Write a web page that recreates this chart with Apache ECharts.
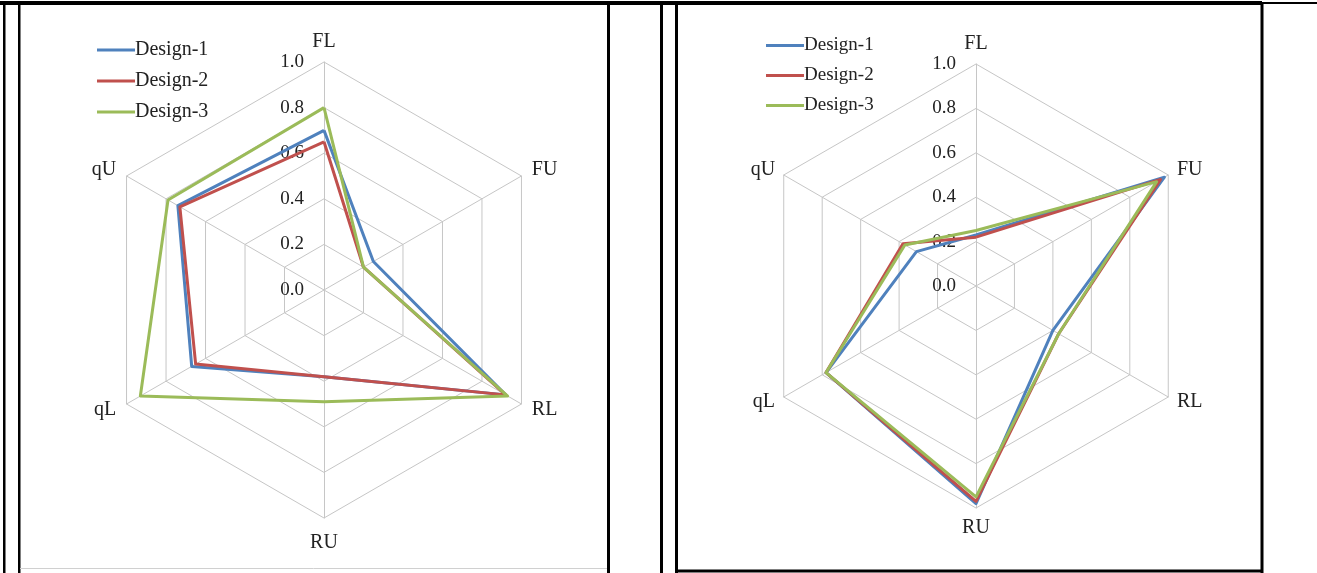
<!DOCTYPE html>
<html>
<head>
<meta charset="utf-8">
<script src="https://cdn.jsdelivr.net/npm/echarts@6/dist/echarts.min.js"></script>
<style>
  html, body { margin: 0; padding: 0; background: #fff; }
  #chart { width: 1317px; height: 573px; }
</style>
</head>
<body>
<div id="chart"></div>
<script>
// Axis names in clockwise order as they appear (FL at top)
const axisNames = ['FL', 'FU', 'RL', 'RU', 'qL', 'qU'];
const seriesNames = ['Design-1', 'Design-2', 'Design-3'];
const seriesColors = ['#4F81BD', '#C0504D', '#9BBB59'];
const tickLabels = ['0.0', '0.2', '0.4', '0.6', '0.8', '1.0'];

// Left chart values (FL, FU, RL, RU, qL, qU)
const leftDesign1 = [0.70, 0.25, 0.92, 0.38, 0.67, 0.74];
const leftDesign2 = [0.65, 0.20, 0.92, 0.38, 0.65, 0.73];
const leftDesign3 = [0.80, 0.20, 0.93, 0.49, 0.93, 0.79];

// Right chart values (FL, FU, RL, RU, qL, qU)
const rightDesign1 = [0.23, 0.98, 0.40, 0.98, 0.78, 0.31];
const rightDesign2 = [0.22, 0.96, 0.43, 0.97, 0.78, 0.38];
const rightDesign3 = [0.25, 0.94, 0.43, 0.95, 0.78, 0.37];

// ECharts lays indicators out counter-clockwise; reorder to appear clockwise
const order = [0, 5, 4, 3, 2, 1];
const reorder = arr => order.map(i => arr[i]);

const FONT = 'Liberation Serif';

function makeIndicators(gaps) {
  return order.map((i, k) => {
    const ind = { name: axisNames[i], min: 0, max: 1, nameGap: gaps[i] };
    if (k === 0) {
      ind.axisLabel = {
        show: true,
        formatter: v => tickLabels[Math.round(v / 0.2)] ?? v.toFixed(1),
        color: '#222',
        fontFamily: FONT,
        fontSize: 19,
        margin: 20
      };
    }
    return ind;
  });
}

function makeRadar(center, radius, gaps) {
  return {
    center: center,
    radius: radius,
    startAngle: 90,
    shape: 'polygon',
    splitNumber: 5,
    indicator: makeIndicators(gaps),
    axisName: { color: '#222', fontFamily: FONT, fontSize: 20 },
    nameGap: 10,
    axisLine: { show: true, lineStyle: { color: '#c6c6c6', width: 1 } },
    splitLine: { show: true, lineStyle: { color: '#c6c6c6', width: 1 } },
    splitArea: { show: false },
    axisTick: { show: false },
    axisLabel: { show: false }
  };
}

function makeData(arrs) {
  return arrs.map((arr, k) => ({
    name: seriesNames[k],
    value: reorder(arr),
    symbol: 'none',
    lineStyle: { color: seriesColors[k], width: 3 },
    itemStyle: { color: seriesColors[k] }
  }));
}

function makeLegend(left, top, fontSize) {
  return {
    orient: 'vertical',
    left: left,
    top: top,
    icon: 'rect',
    itemWidth: 38,
    itemHeight: 3,
    itemGap: 11,
    data: seriesNames,
    textStyle: { color: '#222', fontFamily: FONT, fontSize: fontSize, padding: [0, 0, 0, -5] },
    selectedMode: false
  };
}

const chart = echarts.init(document.getElementById('chart'), null, { renderer: 'canvas' });

const black = '#000';
const option = {
  animation: false,
  backgroundColor: '#fff',
  legend: [
    makeLegend(92, 35, 20),
    makeLegend(761, 31, 19)
  ],
  radar: [
    makeRadar([324, 290], 228, [10, 12, 12, 15, 12, 12]),
    makeRadar([976, 286], 222, [10, 10, 10, 10, 10, 10])
  ],
  series: [
    { type: 'radar', radarIndex: 0, data: makeData([leftDesign1, leftDesign2, leftDesign3]) },
    { type: 'radar', radarIndex: 1, data: makeData([rightDesign1, rightDesign2, rightDesign3]) }
  ],
  graphic: [
    // outer table lines
    { type: 'rect', shape: { x: 0, y: 1, width: 1262, height: 4 }, style: { fill: black }, silent: true },
    { type: 'rect', shape: { x: 1262, y: 2, width: 55, height: 2 }, style: { fill: black }, silent: true },
    { type: 'rect', shape: { x: 3, y: 1, width: 2.5, height: 572 }, style: { fill: black }, silent: true },
    { type: 'rect', shape: { x: 660, y: 1, width: 3, height: 572 }, style: { fill: black }, silent: true },
    // left chart box
    { type: 'rect', shape: { x: 18, y: 3, width: 2.5, height: 570 }, style: { fill: black }, silent: true },
    { type: 'rect', shape: { x: 607, y: 3, width: 3, height: 570 }, style: { fill: black }, silent: true },
    { type: 'line', shape: { x1: 20, y1: 568.5, x2: 607, y2: 568.5 }, style: { stroke: '#d0d0d0', lineWidth: 1 }, silent: true },
    // right chart box
    { type: 'rect', shape: { x: 675, y: 3, width: 3, height: 570 }, style: { fill: black }, silent: true },
    { type: 'rect', shape: { x: 1260.5, y: 3, width: 3, height: 570 }, style: { fill: black }, silent: true },
    { type: 'rect', shape: { x: 675, y: 569.5, width: 588, height: 3 }, style: { fill: black }, silent: true }
  ]
};

chart.setOption(option);
</script>
</body>
</html>
